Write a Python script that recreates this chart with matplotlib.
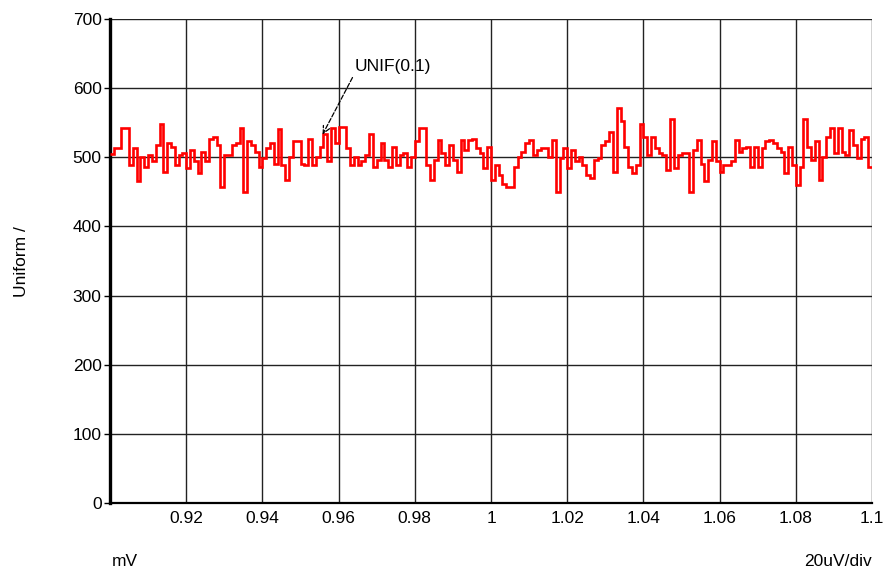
import numpy as np
import matplotlib
matplotlib.use("Agg")
import matplotlib.pyplot as plt

plt.rcParams["font.family"] = ["Liberation Sans", "DejaVu Sans"]

# histogram of UNIF(0.1): 200 bins from 0.9 to 1.1 mV
x_start, x_end = 0.9, 1.1
counts = [
    505, 513, 513, 543, 543, 489, 513, 465, 501, 486, 503, 494, 518, 548, 479, 520, 515, 489, 503, 506, 484, 511, 494, 477, 508,
    494, 527, 530, 518, 457, 503, 503, 518, 520, 543, 450, 523, 518, 508, 486, 499, 513, 520, 491, 541, 489, 467, 501, 523, 523,
    491, 489, 527, 489, 501, 515, 533, 494, 542, 520, 544, 544, 513, 489, 501, 489, 494, 503, 533, 486, 496, 520, 496, 486, 515,
    489, 503, 506, 486, 501, 523, 542, 542, 489, 467, 496, 525, 506, 489, 518, 496, 479, 525, 511, 525, 527, 513, 506, 484, 515,
    467, 489, 474, 462, 457, 457, 486, 501, 508, 520, 525, 503, 511, 513, 514, 501, 525, 450, 499, 513, 484, 511, 494, 501, 489,
    474, 470, 496, 499, 518, 523, 537, 479, 571, 552, 515, 486, 477, 489, 548, 530, 503, 530, 513, 506, 503, 482, 556, 484, 503,
    506, 506, 450, 511, 525, 491, 465, 496, 523, 494, 479, 489, 489, 494, 525, 508, 513, 515, 486, 515, 486, 513, 523, 525, 520,
    513, 508, 477, 515, 489, 460, 486, 556, 515, 496, 523, 467, 501, 530, 542, 506, 542, 508, 503, 540, 518, 499, 527, 530, 486,
]
x_ticks = [0.92, 0.94, 0.96, 0.98, 1.0, 1.02, 1.04, 1.06, 1.08, 1.1]
x_tick_labels = ["0.92", "0.94", "0.96", "0.98", "1", "1.02", "1.04", "1.06", "1.08", "1.1"]
y_ticks = [0, 100, 200, 300, 400, 500, 600, 700]

W, H = 884, 577
fig = plt.figure(figsize=(W / 100, H / 100), dpi=100)
ax = fig.add_axes([110 / W, 1 - 503 / H, (872 - 110) / W, (503 - 19) / H])

edges = np.linspace(x_start, x_end, len(counts) + 1)
ax.stairs(counts, edges, baseline=None, color="#ff0000", linewidth=1.9, zorder=3)

ax.set_xlim(x_start, x_end)
ax.set_ylim(0, 700)
ax.set_xticks(x_ticks)
ax.set_xticklabels(x_tick_labels)
ax.set_yticks(y_ticks)
ax.grid(True, color="#222222", linewidth=1.0)
ax.tick_params(axis="x", length=0, pad=6, labelsize=12.5)
ax.tick_params(axis="y", length=4, width=1, pad=2, labelsize=12.5)

for side in ["top", "right"]:
    ax.spines[side].set_visible(False)
ax.spines["left"].set_linewidth(2.4)
ax.spines["bottom"].set_linewidth(1.6)

ax.annotate("UNIF(0.1)", xy=(0.9558, 533), xytext=(0.9642, 632),
            textcoords="data", ha="left", va="center", fontsize=12.5,
            arrowprops=dict(arrowstyle="->", color="black", linestyle="--",
                            linewidth=0.9, relpos=(0, 0), shrinkA=1, shrinkB=0))

fig.text(22 / W, 1 - 262 / H, "Uniform /", rotation=90, ha="center", va="center", fontsize=12.5)
fig.text(112 / W, 1 - 562 / H, "mV", ha="left", va="center", fontsize=12.5)
fig.text(872 / W, 1 - 562 / H, "20uV/div", ha="right", va="center", fontsize=12.5)

fig.savefig("out.png", dpi=100)
